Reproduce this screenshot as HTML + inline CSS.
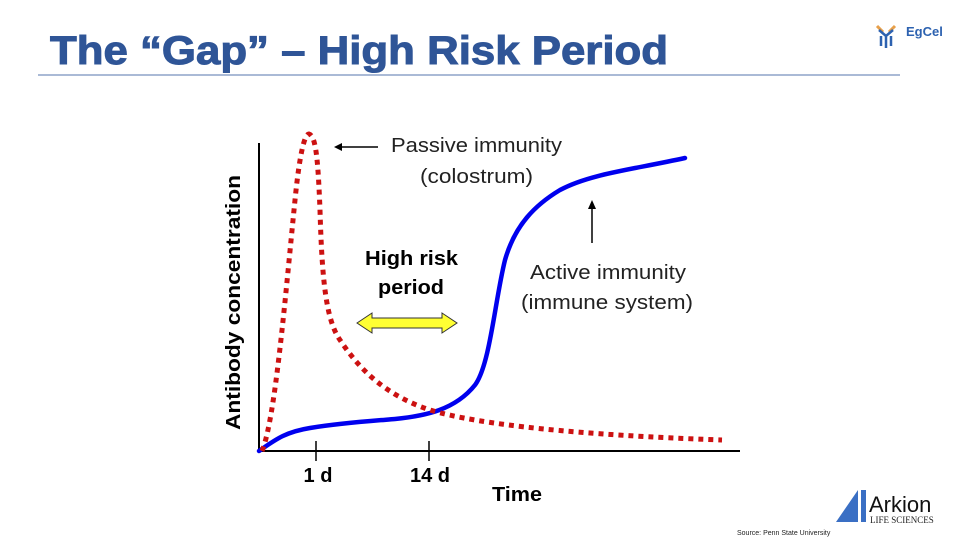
<!DOCTYPE html>
<html><head><meta charset="utf-8"><style>
body{margin:0;width:960px;height:540px;background:#fff;overflow:hidden;font-family:"Liberation Sans",Arial,sans-serif}
</style></head><body>
<svg width="960" height="540" viewBox="0 0 960 540" xmlns="http://www.w3.org/2000/svg" font-family="Liberation Sans, Arial, sans-serif">
<text x="50" y="64" font-size="40" font-weight="bold" fill="#2f5597" stroke="#2f5597" stroke-width="1" textLength="618" lengthAdjust="spacingAndGlyphs">The “Gap” – High Risk Period</text>
<line x1="38" y1="75" x2="900" y2="75" stroke="#8ea3c9" stroke-width="1.5"/>
<g transform="translate(875,22)">
<path d="M2 4 L8 10 M20 4 L14 10" stroke="#e8a04a" stroke-width="3"/>
<path d="M4 8 L11 14 L18 8 M11 14 L11 26 M6 14 L6 24 M16 14 L16 24" stroke="#2d62b0" stroke-width="2.5" fill="none"/>
</g>
<text x="906" y="36" font-size="13" font-weight="bold" fill="#2d62b0">EgCel</text>
<line x1="259" y1="143" x2="259" y2="452" stroke="#000" stroke-width="2"/>
<line x1="258" y1="451" x2="740" y2="451" stroke="#000" stroke-width="2"/>
<line x1="316" y1="441" x2="316" y2="461" stroke="#000" stroke-width="1.5"/>
<line x1="429" y1="441" x2="429" y2="461" stroke="#000" stroke-width="1.5"/>
<text x="318" y="482" font-size="20" font-weight="bold" text-anchor="middle">1 d</text>
<text x="430" y="482" font-size="20" font-weight="bold" text-anchor="middle">14 d</text>
<text x="492" y="501" font-size="20" font-weight="bold" textLength="50" lengthAdjust="spacingAndGlyphs">Time</text>
<text transform="translate(240,430) rotate(-90)" font-size="20" font-weight="bold" textLength="255" lengthAdjust="spacingAndGlyphs">Antibody concentration</text>
<path d="M259 451 C275 440,285 432,310 428 C340 423,370 421,395 419 C425 416,455 410,475 385 C490 365,495 300,505 260 C515 225,535 205,560 190 C590 174,630 170,685 158" fill="none" stroke="#0000ee" stroke-width="4.5" stroke-linecap="round"/>
<path d="M262 451 C275 420,285 300,295 200 C300 150,305 134,309 134 C316 136,318 160,320 210 C322 280,326 320,340 340 C360 370,385 395,430 410 C480 425,580 435,722 440" fill="none" stroke="#cc1111" stroke-width="5" stroke-dasharray="5,5"/>
<line x1="338" y1="147" x2="378" y2="147" stroke="#000" stroke-width="1.5"/>
<path d="M334 147 L342 143 L342 151 Z" fill="#000"/>
<text x="391" y="152" font-size="20" fill="#222" textLength="171" lengthAdjust="spacingAndGlyphs">Passive immunity</text>
<text x="420" y="183" font-size="20" fill="#222" textLength="113" lengthAdjust="spacingAndGlyphs">(colostrum)</text>
<text x="365" y="265" font-size="20" font-weight="bold" textLength="93" lengthAdjust="spacingAndGlyphs">High risk</text>
<text x="378" y="294" font-size="20" font-weight="bold" textLength="66" lengthAdjust="spacingAndGlyphs">period</text>
<path d="M357 323 L372 313 L372 318 L442 318 L442 313 L457 323 L442 333 L442 328 L372 328 L372 333 Z" fill="#ffff33" stroke="#333" stroke-width="1"/>
<line x1="592" y1="243" x2="592" y2="205" stroke="#000" stroke-width="1.5"/>
<path d="M592 200 L588 209 L596 209 Z" fill="#000"/>
<text x="530" y="279" font-size="20" fill="#222" textLength="156" lengthAdjust="spacingAndGlyphs">Active immunity</text>
<text x="521" y="309" font-size="20" fill="#222" textLength="172" lengthAdjust="spacingAndGlyphs">(immune system)</text>
<path d="M836 522 L858 490 L858 522 Z" fill="#3a6fc4"/>
<path d="M861 490 L866 490 L866 522 L861 522 Z" fill="#3a6fc4"/>
<text x="869" y="512" font-size="22" fill="#111">Arkion</text>
<text x="870" y="523" font-size="9" fill="#222" font-family="Liberation Serif, serif">LIFE SCIENCES</text>
<text x="737" y="535" font-size="7" fill="#222">Source: Penn State University</text>
</svg>
</body></html>
